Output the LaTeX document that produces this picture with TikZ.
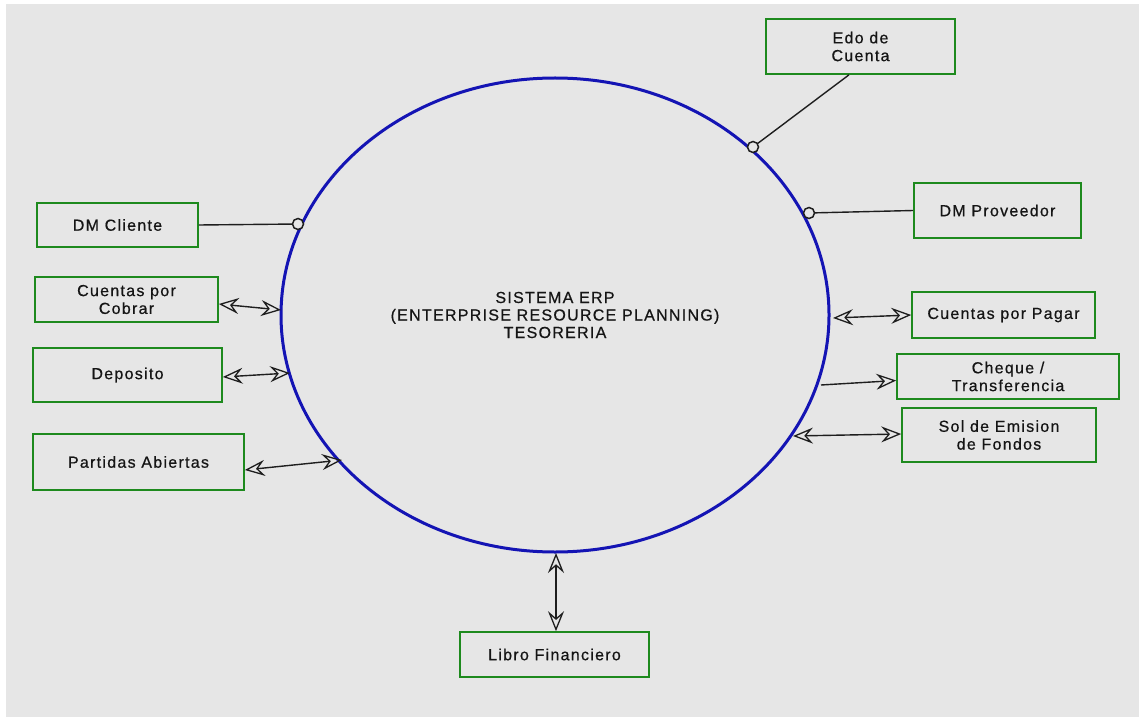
\documentclass[tikz,border=0pt]{standalone}
\usepackage{fontspec}
\setmainfont{Liberation Sans}[LetterSpace=8, FakeBold=0.6]
\usetikzlibrary{arrows.meta,shapes.geometric}
\definecolor{bggray}{HTML}{E6E6E6}
\definecolor{boxgreen}{HTML}{1E8A1E}
\definecolor{ellblue}{HTML}{1414B4}
\definecolor{txtcol}{HTML}{151515}
\definecolor{linecol}{HTML}{1E1E1E}
\tikzset{
  box/.style={draw=boxgreen, line width=1.6pt, fill=bggray, inner sep=0pt, align=center,
    text=txtcol, font=\fontsize{16}{17.8}\selectfont},
  conn/.style={draw=linecol, line width=1.4pt},
  biarrow/.style={conn, {Stealth[open, length=20pt, width=16pt, inset=7pt, line width=1.3pt]}-{Stealth[open, length=20pt, width=16pt, inset=7pt, line width=1.3pt]}},
  onearrow/.style={conn, -{Stealth[open, length=20pt, width=16pt, inset=7pt, line width=1.3pt]}},
  enddot/.style={circle, draw=linecol, line width=1.5pt, fill=bggray, minimum size=11pt, inner sep=0pt},
}
\begin{document}
\begin{tikzpicture}[x=1pt, y=-1pt]
\useasboundingbox (0,0) rectangle (1139,719);
\fill[white] (0,0) rectangle (1139,719);
\fill[bggray] (6,4) rectangle (1139,717);

% central ellipse
\node[ellipse, draw=ellblue, line width=3pt, minimum width=548pt, minimum height=474pt,
  inner sep=0pt, align=center, text=txtcol, font=\fontsize{16}{17.5}\selectfont]
  (erp) at (555,315) {SISTEMA ERP\\(ENTERPRISE RESOURCE PLANNING)\\TESORERIA};

% boxes
\node[box, minimum width=189pt, minimum height=55pt] (edo) at (860.5,46.5) {Edo de\\Cuenta};
\node[box, minimum width=161pt, minimum height=44pt] (dmc) at (117.5,225) {DM Cliente};
\node[box, minimum width=167pt, minimum height=55pt] (dmp) at (997.5,210.5) {DM Proveedor};
\node[box, minimum width=183pt, minimum height=45pt] (cxc) at (126.5,299.5) {Cuentas por\\Cobrar};
\node[box, minimum width=189pt, minimum height=54pt] (dep) at (127.5,375) {Deposito};
\node[box, minimum width=211pt, minimum height=56pt] (pab) at (138.5,462) {Partidas Abiertas};
\node[box, minimum width=183pt, minimum height=46pt] (cxp) at (1003.5,315) {Cuentas por Pagar};
\node[box, minimum width=222pt, minimum height=45pt] (chq) at (1008,376.5) {Cheque /\\Transferencia};
\node[box, minimum width=194pt, minimum height=54pt] (sol) at (999,435) {Sol de Emision\\de Fondos};
\node[box, minimum width=189pt, minimum height=45pt] (lib) at (554.5,654.5) {Libro Financiero};

% points on the ellipse
\coordinate (e-edo) at (753,147);
\coordinate (e-dmc) at (298,224);
\coordinate (e-dmp) at (809,213);
\coordinate (e-cxc) at (281,310);
\coordinate (e-dep) at (290,373);
\coordinate (e-pab) at (342,460);
\coordinate (e-cxp) at (833,318);
\coordinate (e-chq) at (821,385);
\coordinate (e-sol) at (793,436);
\coordinate (e-lib) at (556,553);

% connectors with dots
\draw[conn] ([xshift=-11.5pt]edo.south) -- (e-edo);
\draw[conn] (dmc.east) -- (e-dmc);
\draw[conn] (dmp.west) -- (e-dmp);
\node[enddot] (d-edo) at (e-edo) {};
\node[enddot] (d-dmc) at (e-dmc) {};
\node[enddot] (d-dmp) at (e-dmp) {};

% arrows
\draw[biarrow] ([yshift=-4.5pt]cxc.east) -- (e-cxc);
\draw[biarrow] ([yshift=-2pt]dep.east) -- (e-dep);
\draw[biarrow] ([yshift=-8pt]pab.east) -- (e-pab);
\draw[biarrow] (e-cxp) -- (cxp.west);
\draw[onearrow] (e-chq) -- ([yshift=-4pt]chq.west);
\draw[biarrow] (e-sol) -- ([yshift=1pt]sol.west);
\draw[biarrow] (e-lib) -- ([xshift=1.5pt]lib.north);
\end{tikzpicture}
\end{document}
